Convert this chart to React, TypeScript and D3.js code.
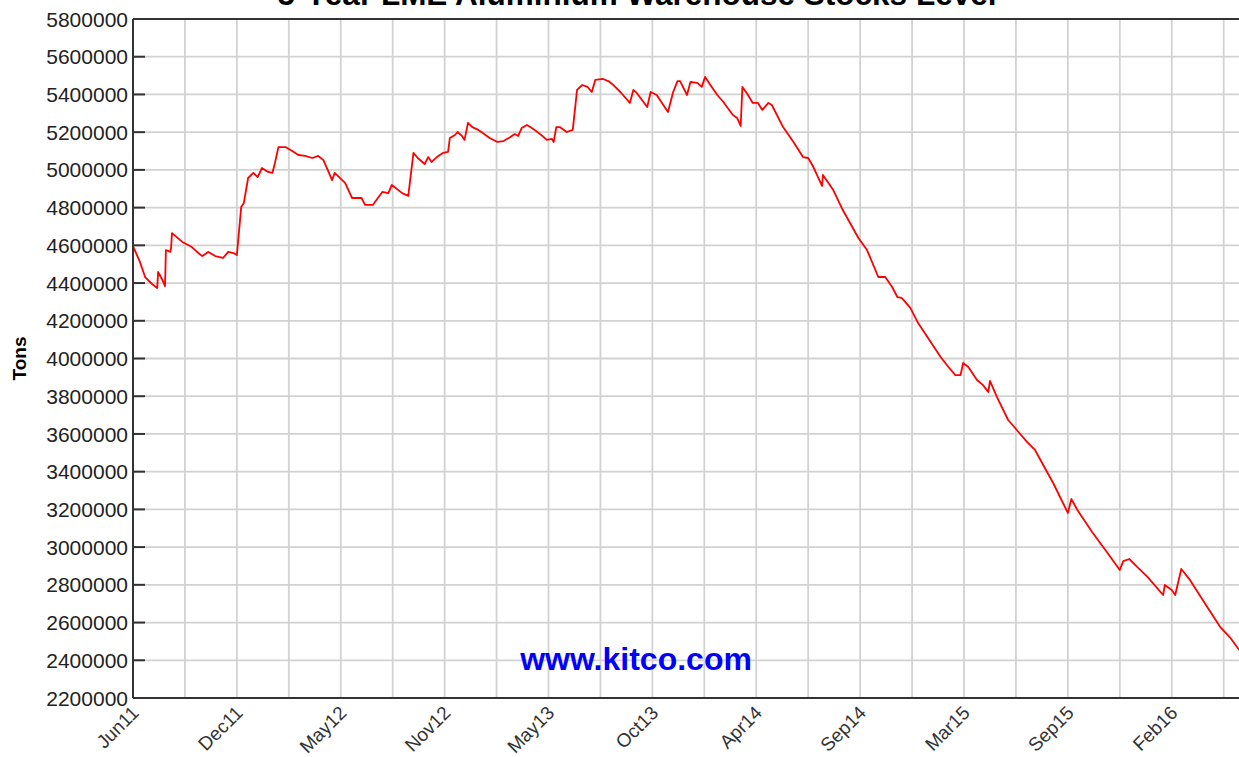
import * as d3 from "d3"
import React from "react"

// trading-day index from the start of the window, and stocks in tons
const days = [
  0, 8, 14, 22, 28, 29, 34, 37, 38, 43, 44, 45, 57, 68, 74, 80, 87, 95, 104, 110,
  116, 120, 125, 128, 133, 139, 144, 149, 156, 161, 164, 168, 176, 184, 191, 199,
  207, 214, 220, 230, 233, 245, 253, 264, 268, 277, 288, 295, 299, 311, 318, 324,
  329, 337, 341, 345, 351, 358, 364, 366, 372, 375, 380, 383, 387, 392, 399, 404,
  412, 421, 428, 436, 441, 445, 449, 455, 459, 464, 473, 478, 484, 486, 489, 493,
  501, 508, 513, 519, 525, 530, 534, 543, 549, 555, 563, 574, 578, 582, 594, 598,
  605, 618, 624, 629, 632, 640, 644, 652, 657, 661, 667, 675, 682, 693, 698, 702,
  704, 709, 716, 722, 727, 734, 738, 751, 763, 774, 780, 786, 796, 797, 809, 820,
  838, 848, 861, 869, 877, 883, 888, 898, 907, 933, 942, 950, 956, 959, 965, 975,
  982, 988, 990, 998, 1011, 1021, 1033, 1042, 1063, 1080, 1084, 1091, 1108, 1125,
  1140, 1144, 1151, 1160, 1172, 1190, 1192, 1200, 1204, 1211, 1221, 1241, 1256,
  1267, 1278,
]

const stocks = [
  4596000, 4512000, 4432000, 4395000, 4374000, 4459000, 4416000, 4384000, 4575000,
  4565000, 4586000, 4665000, 4618000, 4591000, 4565000, 4543000, 4565000, 4543000,
  4533000, 4565000, 4559000, 4549000, 4803000, 4824000, 4957000, 4984000, 4962000,
  5010000, 4989000, 4984000, 5037000, 5121000, 5121000, 5100000, 5079000, 5074000,
  5063000, 5074000, 5052000, 4946000, 4984000, 4931000, 4851000, 4851000, 4814000,
  4814000, 4883000, 4877000, 4920000, 4877000, 4862000, 5090000, 5063000, 5031000,
  5068000, 5042000, 5068000, 5090000, 5095000, 5169000, 5185000, 5201000, 5180000,
  5159000, 5249000, 5227000, 5212000, 5196000, 5169000, 5148000, 5153000, 5174000,
  5190000, 5180000, 5222000, 5238000, 5227000, 5212000, 5180000, 5159000, 5164000,
  5148000, 5227000, 5227000, 5201000, 5212000, 5424000, 5450000, 5440000, 5413000,
  5477000, 5482000, 5471000, 5450000, 5413000, 5355000, 5424000, 5408000, 5333000,
  5413000, 5397000, 5307000, 5413000, 5471000, 5471000, 5397000, 5466000, 5461000,
  5440000, 5493000, 5450000, 5397000, 5360000, 5291000, 5275000, 5233000, 5440000,
  5408000, 5355000, 5355000, 5318000, 5355000, 5344000, 5227000, 5148000, 5068000,
  5063000, 5015000, 4915000, 4973000, 4893000, 4787000, 4639000, 4575000, 4432000,
  4432000, 4379000, 4326000, 4321000, 4268000, 4188000, 4008000, 3955000, 3912000,
  3912000, 3976000, 3955000, 3886000, 3859000, 3822000, 3881000, 3796000, 3674000,
  3621000, 3557000, 3515000, 3340000, 3181000, 3255000, 3197000, 3080000, 2974000,
  2879000, 2926000, 2937000, 2895000, 2842000, 2746000, 2799000, 2773000, 2746000,
  2884000, 2826000, 2682000, 2576000, 2523000, 2454000,
]

const tickLabels = [
  "Jun11", "Dec11", "May12", "Nov12", "May13", "Oct13",
  "Apr14", "Sep14", "Mar15", "Sep15", "Feb16",
]
const labelStep = 120
const yTicks = d3.range(2200000, 5800001, 200000)

const W = 1239
const H = 757
const font = "'Liberation Sans', Arial, sans-serif"

export default function App() {
  const x = d3.scaleLinear().domain([0, 1280]).range([133, 1241])
  const y = d3.scaleLinear().domain([2200000, 5800000]).range([698, 19])

  const gridDays = d3.range(labelStep / 2, 1280, labelStep / 2)
  const pts: [number, number][] = days.map((d, i) => [d, stocks[i]])
  const line = d3
    .line<[number, number]>()
    .x((d) => x(d[0]))
    .y((d) => y(d[1]))

  const [x0, x1] = x.range()
  const [yb, yt] = y.range()

  return (
    <svg
      width={W}
      height={H}
      style={{ position: "absolute", left: 0, top: 0, background: "#fff" }}
      fontFamily={font}
    >
      <rect width={W} height={H} fill="#fff" />
      {/* grid */}
      {gridDays.map((d) => (
        <line key={"gx" + d} x1={x(d)} x2={x(d)} y1={yt} y2={yb} stroke="#d2d2d2" strokeWidth={1.8} />
      ))}
      {yTicks.slice(1, -1).map((v) => (
        <line key={"gy" + v} x1={x0} x2={x1} y1={y(v)} y2={y(v)} stroke="#d2d2d2" strokeWidth={1.8} />
      ))}

      {/* data */}
      <path d={line(pts) || ""} fill="none" stroke="#ff0000" strokeWidth={1.8} strokeLinejoin="round" />

      {/* frame */}
      <line x1={x0} x2={x1} y1={yt} y2={yt} stroke="#333" strokeWidth={2} />
      <line x1={x0} x2={x1} y1={yb} y2={yb} stroke="#333" strokeWidth={2} />
      <line x1={x0} x2={x0} y1={yt} y2={yb} stroke="#333" strokeWidth={2} />

      {/* y axis */}
      {yTicks.map((v) => (
        <g key={"ty" + v}>
          <line x1={x0} x2={x0 + 12} y1={y(v)} y2={y(v)} stroke="#333" strokeWidth={2} />
          <text x={x0 - 5} y={y(v)} dy="0.36em" textAnchor="end" fontSize={21} fill="#222">
            {v}
          </text>
        </g>
      ))}

      {/* x axis labels */}
      {tickLabels.map((t, i) => {
        const px = x(i * labelStep)
        return (
          <text
            key={t}
            transform={`translate(${px + 7},${yb + 16}) rotate(-45)`}
            textAnchor="end"
            fontSize={19}
            fill="#333"
          >
            {t}
          </text>
        )
      })}

      <text
        transform={`translate(26,${(yt + yb) / 2}) rotate(-90)`}
        textAnchor="middle"
        fontSize={19}
        fontWeight="bold"
        fill="#000"
      >
        Tons
      </text>

      <text x={637} y={5} textAnchor="middle" fontSize={31.5} fontWeight="bold" fill="#000">
        5-Year LME Aluminium Warehouse Stocks Level
      </text>

      <text x={636} y={670} textAnchor="middle" fontSize={32} fontWeight="bold" fill="#0000ff">
        www.kitco.com
      </text>
    </svg>
  )
}
